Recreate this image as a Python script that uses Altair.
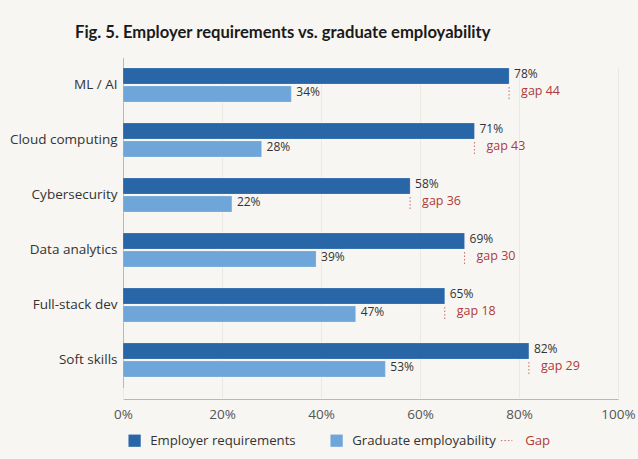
import altair as alt
import pandas as pd

categories = ["ML / AI", "Cloud computing", "Cybersecurity", "Data analytics", "Full-stack dev", "Soft skills"]
employer = [78, 71, 58, 69, 65, 82]
graduate = [34, 28, 22, 39, 47, 53]
gaps = [44, 43, 36, 30, 18, 29]

S_EMP = "Employer requirements"
S_GRAD = "Graduate employability"

rows = []
for c, e, g in zip(categories, employer, graduate):
    rows.append({"cat": c, "series": S_EMP, "value": e, "label": f"{e}%"})
    rows.append({"cat": c, "series": S_GRAD, "value": g, "label": f"{g}%"})
bars_df = pd.DataFrame(rows)

gap_df = pd.DataFrame({
    "cat": categories,
    "series": [S_GRAD] * len(categories),
    "value": employer,
    "gaplabel": [f"gap {g}" for g in gaps],
    "kind": ["Gap"] * len(categories),
})

FONT = "Open Sans"
EMP_C = "#2866a8"
GRAD_C = "#6fa6d9"
GAP_C = "#b03a3a"

y_scale = alt.Scale(range=[1.5, 331.5], paddingInner=0.38, paddingOuter=0.19)
y_enc = alt.Y("cat:N", sort=categories, title=None, scale=y_scale,
              axis=alt.Axis(labelFont=FONT, labelFontSize=13.5, labelColor="#333333",
                            ticks=False, labelPadding=6, domainColor="#b8b8b8", grid=False))
yoff = alt.YOffset("series:N", sort=[S_EMP, S_GRAD],
                   scale=alt.Scale(domain=[S_EMP, S_GRAD], paddingInner=0.1, paddingOuter=0))
x_enc = alt.X("value:Q", title=None,
              scale=alt.Scale(domain=[0, 100]),
              axis=alt.Axis(values=[0, 20, 40, 60, 80, 100], labelExpr="datum.value + '%'",
                            labelFont=FONT, labelFontSize=13.5, labelColor="#555555",
                            labelFlush=False, labelBound=False,
                            ticks=False, labelPadding=8, domainColor="#b8b8b8",
                            gridColor="#ebe9e4", gridWidth=1))

bars = alt.Chart(bars_df).mark_bar(stroke="#ffffff", strokeOpacity=0.4, strokeWidth=0.5).encode(
    x=x_enc,
    y=y_enc,
    yOffset=yoff,
    color=alt.Color("series:N", sort=[S_EMP, S_GRAD],
                    scale=alt.Scale(domain=[S_EMP, S_GRAD], range=[EMP_C, GRAD_C]),
                    legend=alt.Legend(title=None, orient="none", direction="horizontal",
                                      legendX=5, legendY=378,
                                      labelFont=FONT, labelFontSize=13.2, labelColor="#333333",
                                      symbolType="square", symbolSize=150, symbolStrokeWidth=0,
                                      columnPadding=34, labelOffset=9)),
)

labels = alt.Chart(bars_df).mark_text(align="left", baseline="middle", dx=5, dy=-2,
                                      font=FONT, fontSize=12, color="#333333").encode(
    x="value:Q", y=alt.Y("cat:N", sort=categories), yOffset=yoff, text="label:N")

gap_rule = alt.Chart(gap_df).mark_rule(strokeDash=[1.5, 2], strokeWidth=1).encode(
    x="value:Q",
    y=alt.Y("cat:N", sort=categories, bandPosition=0.56),
    y2=alt.Y2("cat:N", bandPosition=0.92),
    stroke=alt.Stroke("kind:N", scale=alt.Scale(domain=["Gap"], range=["#c96a6a"]),
                      legend=alt.Legend(title=None, orient="none", direction="horizontal",
                                        legendX=377, legendY=378,
                                        labelFont=FONT, labelFontSize=13.2, labelColor=GAP_C,
                                        symbolType="stroke", symbolDash=[1.5, 2],
                                        symbolStrokeWidth=1, symbolSize=130, labelOffset=12)),
)

gap_text = alt.Chart(gap_df).mark_text(align="left", baseline="middle", dx=12, dy=-3,
                                       font=FONT, fontSize=12.5, color=GAP_C).encode(
    x="value:Q", y=alt.Y("cat:N", sort=categories), yOffset=yoff, text="gaplabel:N")

chart = alt.layer(bars, labels, gap_rule, gap_text).properties(
    width=495, height=343,
    autosize=alt.AutoSizeParams(type="none"),
    padding={"left": 123, "top": 56, "right": 20, "bottom": 60},
    background="#f7f6f2",
    title=alt.Title("Fig. 5. Employer requirements vs. graduate employability",
                    anchor="start", frame="group", dx=-48, offset=14,
                    font="Lato", fontSize=16.6, fontWeight="bold", color="#1a1a1a"),
).configure_view(stroke=None)

chart.save("out.html", embed_options={"renderer": "svg", "actions": False})
